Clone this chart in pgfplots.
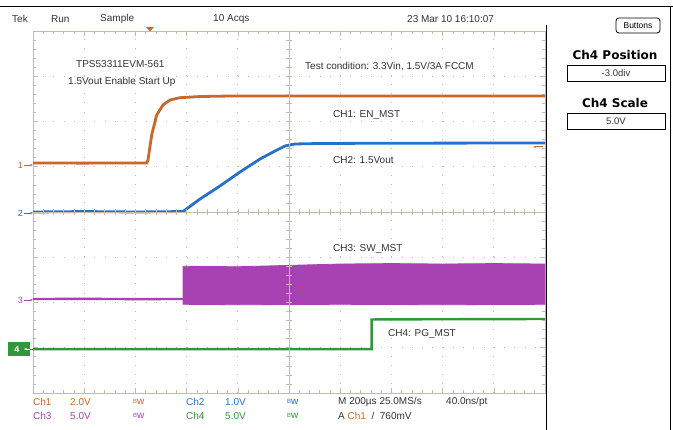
\documentclass[border=0pt]{standalone}
\usepackage{pgfplots}
\pgfplotsset{compat=1.18}
\usepackage{fontspec}
\setmainfont{Liberation Sans}
\newfontfamily\panelfont{DejaVu Sans}
\usetikzlibrary{arrows.meta}

\definecolor{gridc}{RGB}{196,188,170}
\definecolor{chone}{RGB}{204,102,41}
\definecolor{chtwo}{RGB}{42,112,200}
\definecolor{chthree}{RGB}{168,66,178}
\definecolor{chfour}{RGB}{50,150,60}
\definecolor{txt}{RGB}{50,50,50}

\begin{document}
\begin{tikzpicture}
\path[use as bounding box] (0,0) rectangle (673pt,430pt);

\begin{axis}[
  at={(33pt,37pt)}, anchor=south west,
  scale only axis, width=512pt, height=362pt,
  xmin=0, xmax=10, ymin=-4, ymax=4,
  xtick={0,...,10}, ytick={-4,...,4},
  minor x tick num=4, minor y tick num=4,
  xticklabels={}, yticklabels={},
  tick align=inside,
  major tick length=5pt, minor tick length=3pt,
  every tick/.style={gridc, line width=0.6pt},
  axis line style={gridc, line width=0.7pt},
  grid=major,
  x grid style={gridc, line width=0.9pt, dash pattern=on 0.9pt off 8.15pt},
  y grid style={gridc, line width=0.9pt, dash pattern=on 0.9pt off 9.34pt},
]
% CH3 switch node
\addplot[chthree, line width=2.4pt] coordinates {
  (0,-1.923) (1,-1.92) (2,-1.925) (2.93,-1.923)};
\addplot[fill=chthree, draw=chthree, line width=0.8pt] coordinates {
  (2.93,-1.923) (2.93,-1.20) (4,-1.21) (5,-1.18) (6,-1.15) (7,-1.14)
  (8,-1.15) (9,-1.14) (10,-1.15) (10,-2.04) (8,-2.05) (6,-2.04)
  (4,-2.05) (2.93,-2.04)} -- cycle;
% CH4 power good
\addplot[chfour, line width=2.4pt] coordinates {
  (0,-3.03) (3,-3.03) (6.615,-3.03) (6.615,-2.375) (8,-2.37) (10,-2.365)};
% CH2 1.5Vout
\addplot[chtwo, line width=2.8pt] coordinates {
  (0,0) (1,0.01) (2,0) (2.93,0.01) (3.262,0.287) (3.652,0.575)
  (4.043,0.884) (4.434,1.171) (4.727,1.348) (4.922,1.459) (5.117,1.503)
  (5.605,1.514) (7,1.52) (10,1.525)};
% CH1 enable
\addplot[chone, line width=2.8pt] coordinates {
  (0,1.083) (1,1.08) (2,1.085) (2.221,1.083) (2.246,1.149) (2.318,1.702)
  (2.416,2.144) (2.539,2.365) (2.676,2.475) (2.871,2.526) (3.262,2.552)
  (3.848,2.563) (7,2.563) (10,2.563)};
\end{axis}

\begin{scope}[shift={(0pt,430pt)}, x=1pt, y=-1pt]
  % frame lines
  \draw[black, line width=0.9pt] (0,6) -- (673,6);
  \draw[black, line width=0.9pt] (670,6) -- (670,430);
  \draw[black, line width=0.9pt] (546,25) -- (546,430);
  % centre crosshair
  \draw[gridc, line width=0.7pt] (289,31) -- (289,393);
  \draw[gridc, line width=0.7pt] (33,212) -- (545,212);
  \foreach \i in {1,...,49} {
    \draw[gridc, line width=0.6pt] ({33+\i*10.24},209) -- ({33+\i*10.24},215);
  }
  \foreach \i in {1,...,39} {
    \draw[gridc, line width=0.6pt] (286,{31+\i*9.05}) -- (292,{31+\i*9.05});
  }
  % trigger markers
  \fill[chone] (146,27) -- (154,27) -- (150,31.5) -- cycle;
  \draw[chone, line width=1pt, -{Stealth[length=3pt]}] (543,147) -- (533,147);
  % channel ground markers
  \node[chone, anchor=east, font=\fontsize{9}{10}\selectfont, inner sep=0] at (23,165) {1};
  \draw[chone, line width=0.9pt, -{Stealth[length=3pt]}] (24,165) -- (33,165);
  \node[chtwo, anchor=east, font=\fontsize{9}{10}\selectfont, inner sep=0] at (23,213) {2};
  \draw[chtwo, line width=0.9pt, -{Stealth[length=3pt]}] (24,213) -- (33,213);
  \node[chthree, anchor=east, font=\fontsize{9}{10}\selectfont, inner sep=0] at (23,300) {3};
  \draw[chthree, line width=0.9pt, -{Stealth[length=3pt]}] (24,300) -- (33,300);
  \fill[chfour] (8,342) rectangle (30,356);
  \node[white, font=\fontsize{9}{10}\selectfont\bfseries, inner sep=0] at (17,349) {4};
  \draw[white, line width=0.9pt, -{Stealth[length=3pt]}] (30,349) -- (24,349);
  \draw[chfour, line width=0.9pt] (30,349) -- (33,349);

  % header
  \begin{scope}[every node/.style={anchor=west, inner sep=0, txt, font=\fontsize{10}{12}\selectfont}]
    \node at (12,19) {Tek};
    \node at (51,19) {Run};
    \node at (100,19) {Sample};
    \node at (213,19) {10 Acqs};
    \node at (407,19) {23 Mar 10 16:10:07};
    % annotations inside the graticule
    \node at (76,64) {TPS53311EVM-561};
    \node at (68,82) {1.5Vout Enable Start Up};
    \node at (305,67) {Test condition: 3.3Vin, 1.5V/3A FCCM};
    \node at (333,115) {CH1: EN\_MST};
    \node at (333,160) {CH2: 1.5Vout};
    \node at (333,249) {CH3: SW\_MST};
    \node at (388,334) {CH4: PG\_MST};
    % bottom readout
    \node[chone] at (33,402) {Ch1};
    \node[chone] at (70,402) {2.0V};
    \node[chone] at (133,402) {\raisebox{1.5pt}{\fontsize{6}{6}\selectfont B}w};
    \node[chtwo] at (186,402) {Ch2};
    \node[chtwo] at (225,402) {1.0V};
    \node[chtwo] at (287,402) {\raisebox{1.5pt}{\fontsize{6}{6}\selectfont B}w};
    \node at (338,402) {M 200µs 25.0MS/s};
    \node at (446,402) {40.0ns/pt};
    \node[chthree] at (33,416) {Ch3};
    \node[chthree] at (70,416) {5.0V};
    \node[chthree] at (133,416) {\raisebox{1.5pt}{\fontsize{6}{6}\selectfont B}w};
    \node[chfour] at (186,416) {Ch4};
    \node[chfour] at (225,416) {5.0V};
    \node[chfour] at (287,416) {\raisebox{1.5pt}{\fontsize{6}{6}\selectfont B}w};
    \node at (338,416) {A \textcolor{chone}{Ch1} \ / \ 760mV};
  \end{scope}

  % right panel
  \draw[black, line width=0.8pt, rounded corners=3pt] (616,18) rectangle (660,33);
  \node[black, font=\fontsize{8.5}{10}\selectfont, inner sep=0] at (638,25.5) {Buttons};
  \node[black, font=\panelfont\bfseries\fontsize{12}{14}\selectfont, inner sep=0] at (615,55) {Ch4 Position};
  \draw[black, line width=0.7pt] (567,65) rectangle (665,81);
  \node[txt, font=\fontsize{9.5}{11}\selectfont, inner sep=0] at (616,73) {-3.0div};
  \node[black, font=\panelfont\bfseries\fontsize{12}{14}\selectfont, inner sep=0] at (615,103) {Ch4 Scale};
  \draw[black, line width=0.7pt] (567,113) rectangle (665,129);
  \node[txt, font=\fontsize{9.5}{11}\selectfont, inner sep=0] at (616,121) {5.0V};
\end{scope}
\end{tikzpicture}
\end{document}
